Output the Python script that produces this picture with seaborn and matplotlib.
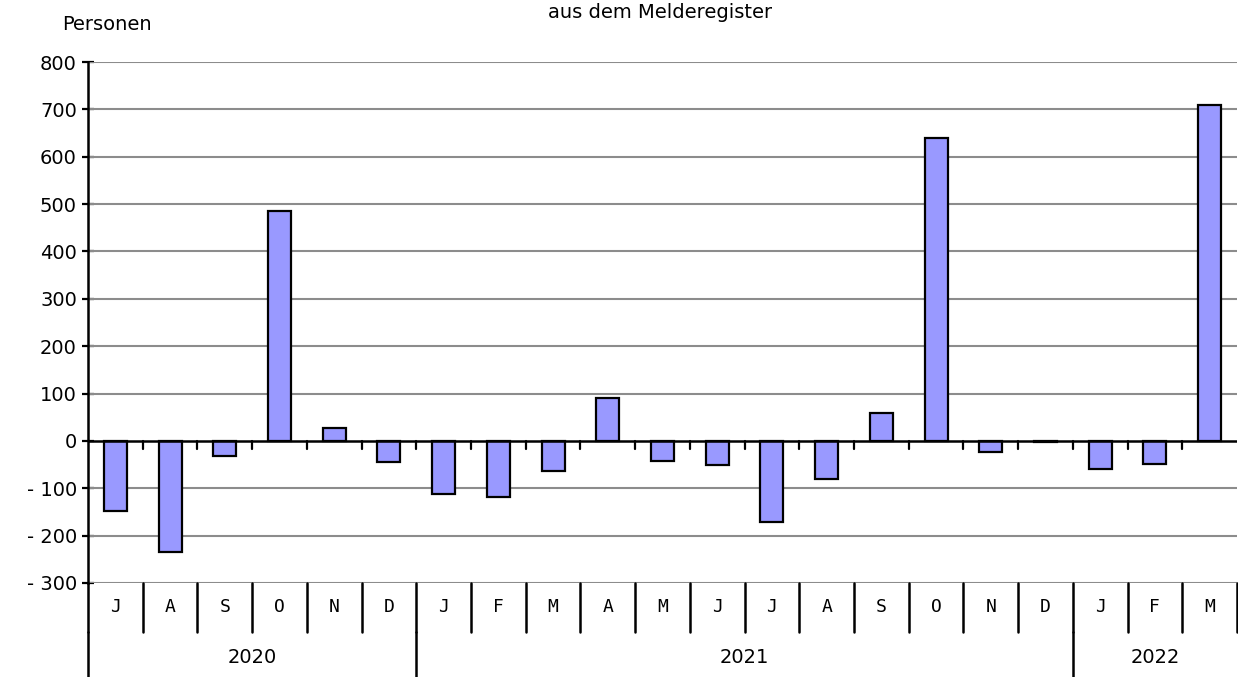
import matplotlib
matplotlib.use("Agg")
import matplotlib.pyplot as plt
import seaborn as sns
import pandas as pd
import numpy as np

months = ["J", "A", "S", "O", "N", "D",
          "J", "F", "M", "A", "M", "J", "J", "A", "S", "O", "N", "D",
          "J", "F", "M"]
years = ["2020"] * 6 + ["2021"] * 12 + ["2022"] * 3
values = [-148, -235, -32, 486, 27, -44,
          -112, -118, -63, 91, -42, -51, -171, -80, 59, 640, -23, -2,
          -59, -49, 710]
yticks = [800, 700, 600, 500, 400, 300, 200, 100, 0, -100, -200, -300]
ytick_labels = ["800", "700", "600", "500", "400", "300", "200", "100", "0",
                "- 100", "- 200", "- 300"]

sns.set_theme(style="white")
plt.rcParams['font.family'] = ['DejaVu Sans']
plt.rcParams['text.color'] = 'black'
plt.rcParams['ytick.color'] = 'black'
plt.rcParams['ytick.labelcolor'] = 'black'

keys = [f"{y}-{i}" for i, y in enumerate(years)]
df = pd.DataFrame({"key": keys, "value": values})

W, H = 1238, 677
fig = plt.figure(figsize=(W / 100, H / 100), dpi=100)
ax = fig.add_axes([88 / W, 1 - 583 / H, (1237 - 88) / W, (583 - 62) / H])

sns.barplot(data=df, x="key", y="value", order=keys, color="#9999FF",
            saturation=1, width=0.42, edgecolor="black", linewidth=1.6, ax=ax, zorder=3)

n = len(keys)
ax.set_xlim(-0.5, n - 0.5)
ax.set_ylim(-300, 800)
ax.set_yticks(yticks)
ax.set_yticklabels(ytick_labels, fontsize=14, color="black")
ax.set_xticks([])
ax.set_xlabel("")
ax.set_ylabel("")
for v in yticks:
    if v != 0:
        ax.axhline(v, color="#8c8c8c", lw=1.5, zorder=1)
ax.axhline(0, color="black", lw=1.8, zorder=4)

for s in ["top", "right", "bottom"]:
    ax.spines[s].set_visible(False)
ax.spines["left"].set_color("black")
ax.spines["left"].set_linewidth(1.8)
ax.tick_params(axis="y", which="both", left=True, length=8, width=1.6,
               color="black", direction="inout", pad=4)

# small ticks at category boundaries along zero line
trans_x = ax.get_xaxis_transform()
for b in np.arange(0.5, n - 0.5, 1.0):
    ax.plot([b, b], [0, -17], color="black", lw=1.6, zorder=4,
            transform=ax.transData)

# category table below the plot
row1 = -49 / (583 - 62)
row2 = -94 / (583 - 62)
for b in np.arange(-0.5, n + 0.5, 1.0):
    ax.plot([b, b], [0, row1], color="black", lw=1.8, transform=trans_x,
            clip_on=False)
for i, m in enumerate(months):
    ax.text(i, row1 / 2, m, transform=trans_x, ha="center", va="center",
            fontsize=13, family="DejaVu Sans Mono", color="black")

# year groups
groups = []
for i, y in enumerate(years):
    if not groups or groups[-1][0] != y:
        groups.append([y, i, i])
    else:
        groups[-1][2] = i
for y, s, e in groups:
    ax.plot([s - 0.5, s - 0.5], [row1, row2], color="black", lw=1.8,
            transform=trans_x, clip_on=False)
    ax.text((s + e) / 2, (row1 + row2) / 2 - 0.005, y, transform=trans_x,
            ha="center", va="center", fontsize=14, color="black")

fig.text(62 / W, 1 - 25 / H, "Personen", fontsize=14, ha="left", va="center",
         color="black")
fig.text(660 / W, 1 - 12 / H, "aus dem Melderegister", fontsize=14,
         ha="center", va="center", color="black")

fig.savefig("out.png", dpi=100, facecolor="white")
